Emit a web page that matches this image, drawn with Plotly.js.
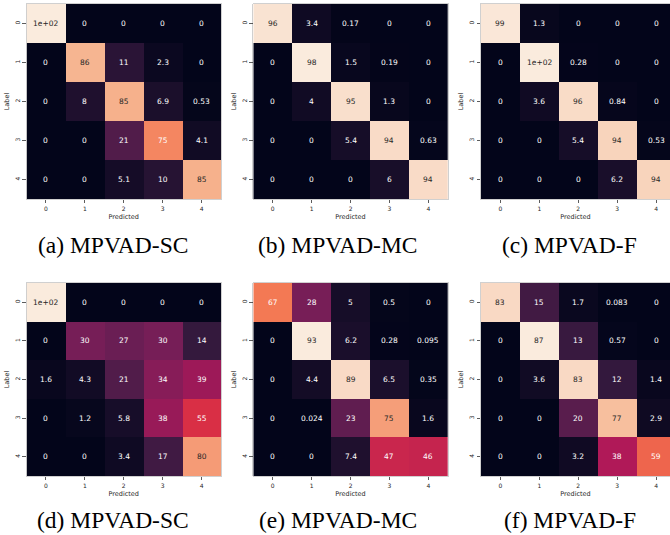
<!DOCTYPE html>
<html>
<head>
<meta charset="utf-8">
<script src="https://cdn.plot.ly/plotly-3.0.1.min.js"></script>
<style>
html,body{margin:0;padding:0;background:#fff;overflow:hidden;}
#chart{width:670px;height:535px;}
</style>
</head>
<body>
<div id="chart"></div>
<script>
// ---- data ----
const classes = [0, 1, 2, 3, 4];
const tickLabels = ["0", "1", "2", "3", "4"];
const captions = ["(a) MPVAD-SC", "(b) MPVAD-MC", "(c) MPVAD-F", "(d) MPVAD-SC", "(e) MPVAD-MC", "(f) MPVAD-F"];
const xTitle = "Predicted";
const yTitle = "Label";

const cmA = [[100, 0, 0, 0, 0], [0, 86, 11, 2.3, 0], [0, 8, 85, 6.9, 0.53], [0, 0, 21, 75, 4.1], [0, 0, 5.1, 10, 85]];
const cmB = [[96, 3.4, 0.17, 0, 0], [0, 98, 1.5, 0.19, 0], [0, 4, 95, 1.3, 0], [0, 0, 5.4, 94, 0.63], [0, 0, 0, 6, 94]];
const cmC = [[99, 1.3, 0, 0, 0], [0, 100, 0.28, 0, 0], [0, 3.6, 96, 0.84, 0], [0, 0, 5.4, 94, 0.53], [0, 0, 0, 6.2, 94]];
const cmD = [[100, 0, 0, 0, 0], [0, 30, 27, 30, 14], [1.6, 4.3, 21, 34, 39], [0, 1.2, 5.8, 38, 55], [0, 0, 3.4, 17, 80]];
const cmE = [[67, 28, 5, 0.5, 0], [0, 93, 6.2, 0.28, 0.095], [0, 4.4, 89, 6.5, 0.35], [0, 0.024, 23, 75, 1.6], [0, 0, 7.4, 47, 46]];
const cmF = [[83, 15, 1.7, 0.083, 0], [0, 87, 13, 0.57, 0], [0, 3.6, 83, 12, 1.4], [0, 0, 20, 77, 2.9], [0, 0, 3.2, 38, 59]];
const matrices = [cmA, cmB, cmC, cmD, cmE, cmF];

// ---- style ----
const rocket = [
  [0.0, "#03051a"], [1/7, "#35193e"], [2/7, "#701f57"], [3/7, "#ad1759"],
  [4/7, "#e13342"], [5/7, "#f37651"], [6/7, "#f6b48f"], [1.0, "#faebdd"]
];
const W = 670, H = 535;
const colsPx = [[26.5, 221], [253.3, 447.7], [481, 670]];
const rowsPx = [[4, 199], [283, 476]];
const capX = [112.5, 338, 569.5];
const capY = [245, 520];
const cellPx = (221 - 26.5) / 5;

function hexToRgb(h){ return [parseInt(h.slice(1,3),16), parseInt(h.slice(3,5),16), parseInt(h.slice(5,7),16)]; }
function colorAt(t){
  for (let i = 1; i < rocket.length; i++) {
    if (t <= rocket[i][0]) {
      const a = rocket[i-1], b = rocket[i];
      const f = (t - a[0]) / (b[0] - a[0]);
      const ca = hexToRgb(a[1]), cb = hexToRgb(b[1]);
      return ca.map((v, k) => v + (cb[k] - v) * f);
    }
  }
  return hexToRgb(rocket[rocket.length-1][1]);
}
function lum(rgb){
  const l = rgb.map(v => { v /= 255; return v <= 0.03928 ? v / 12.92 : Math.pow((v + 0.055) / 1.055, 2.4); });
  return 0.2126 * l[0] + 0.7152 * l[1] + 0.0722 * l[2];
}
function g2(v){
  if (v === 0) return "0";
  const e = Math.floor(Math.log10(Math.abs(v)));
  if (e >= 2) {
    const m = Number((v / Math.pow(10, e)).toPrecision(2));
    return String(m) + "e+" + String(e).padStart(2, "0");
  }
  return String(Number(v.toPrecision(2)));
}

const data = [];
const annotations = [];
const layout = {
  width: W, height: H,
  margin: {l: 0, r: 0, t: 0, b: 0},
  paper_bgcolor: "#fff", plot_bgcolor: "#fff",
  showlegend: false,
  font: {family: "DejaVu Sans", color: "#262626"},
  annotations: annotations
};

matrices.forEach((z, i) => {
  const r = Math.floor(i / 3), c = i % 3;
  const n = i + 1;
  const xa = n === 1 ? "x" : "x" + n, ya = n === 1 ? "y" : "y" + n;
  const xk = n === 1 ? "xaxis" : "xaxis" + n, yk = n === 1 ? "yaxis" : "yaxis" + n;
  const flat = z.flat();
  const zmin = Math.min(...flat), zmax = Math.max(...flat);
  data.push({
    type: "heatmap", z: z, x: classes, y: classes,
    xaxis: xa, yaxis: ya, zmin: zmin, zmax: zmax,
    colorscale: rocket, showscale: false, hoverinfo: "skip"
  });
  const x0 = colsPx[c][0], x1 = colsPx[c][1];
  const y0 = rowsPx[r][0], y1 = rowsPx[r][1];
  const xmax = -0.5 + (x1 - x0) / cellPx;
  const axCommon = {
    tickvals: classes, ticktext: tickLabels, ticks: "outside", ticklen: 3.5, tickwidth: 0.8,
    tickcolor: "#333", tickfont: {family: "DejaVu Sans", size: 6, color: "#262626"},
    showgrid: false, zeroline: false, showline: true, mirror: true,
    linecolor: "#c4c4c4", linewidth: 0.8, fixedrange: true
  };
  layout[xk] = Object.assign({}, axCommon, {
    domain: [x0 / W, x1 / W], range: [-0.5, Math.min(4.5, xmax)], anchor: ya,
    title: {text: xTitle, font: {family: "DejaVu Sans", size: 6.5, color: "#262626"}, standoff: 3}
  });
  layout[yk] = Object.assign({}, axCommon, {
    domain: [1 - y1 / H, 1 - y0 / H], range: [4.5, -0.5], anchor: xa, tickangle: -90,
    title: {text: yTitle, font: {family: "DejaVu Sans", size: 6.5, color: "#262626"}, standoff: 3}
  });
  z.forEach((row, ri) => row.forEach((v, ci) => {
    const t = zmax > zmin ? (v - zmin) / (zmax - zmin) : 0;
    const col = lum(colorAt(t)) > 0.408 ? "#262626" : "#ffffff";
    annotations.push({
      xref: xa, yref: ya, x: ci, y: ri, text: g2(v), showarrow: false,
      font: {family: "DejaVu Sans", size: 7.5, color: col}
    });
  }));
  annotations.push({
    xref: "paper", yref: "paper", x: capX[c] / W, y: 1 - capY[r] / H,
    xanchor: "center", yanchor: "middle", text: captions[i], showarrow: false,
    font: {family: "Liberation Serif", size: 23.5, color: "#000"}
  });
});

Plotly.newPlot("chart", data, layout, {displayModeBar: false, staticPlot: true});
</script>
</body>
</html>
